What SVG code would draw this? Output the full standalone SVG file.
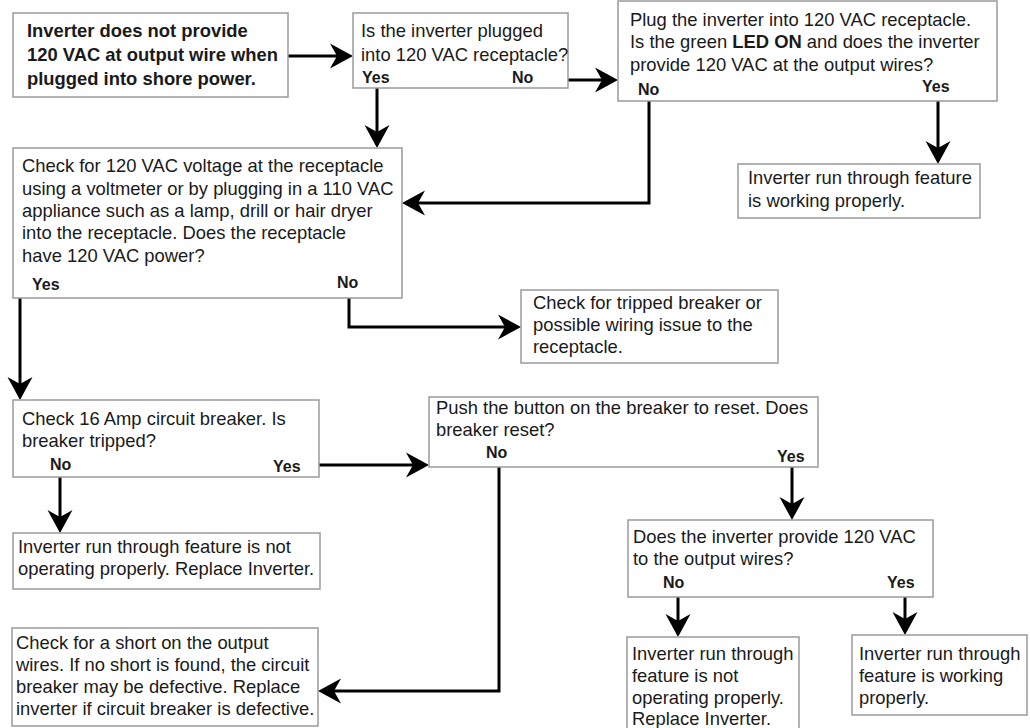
<svg xmlns="http://www.w3.org/2000/svg" width="1030" height="728" viewBox="0 0 1030 728">
<style>
.box{fill:#fff;stroke:#9a9a9a;stroke-width:1.5}
text{font-family:"Liberation Sans",Arial,sans-serif;font-size:18.4px;fill:#1a1a1a}
.b{font-weight:bold}
.lbl{font-weight:bold;font-size:16px}
.c{fill:none;stroke:#000;stroke-width:3}
</style>
<defs>
<marker id="ah" markerUnits="userSpaceOnUse" markerWidth="26" markerHeight="28" viewBox="0 -14 26 28" refX="7" refY="0" orient="auto">
<path d="M0,-12.5 L23,0 L0,12.5 L7,0 Z" fill="#000"/>
</marker>
</defs>
<rect width="1030" height="728" fill="#fff"/>
<g id="connectors">
<path class="c" d="M288,56 H337" marker-end="url(#ah)"/>
<path class="c" d="M568,80 H602" marker-end="url(#ah)"/>
<path class="c" d="M377,88 V132" marker-end="url(#ah)"/>
<path class="c" d="M649,101 V203 H418" marker-end="url(#ah)"/>
<path class="c" d="M938,101 V148" marker-end="url(#ah)"/>
<path class="c" d="M349,298 V327 H505" marker-end="url(#ah)"/>
<path class="c" d="M20,298 V384" marker-end="url(#ah)"/>
<path class="c" d="M60,477 V517" marker-end="url(#ah)"/>
<path class="c" d="M319,465 H413" marker-end="url(#ah)"/>
<path class="c" d="M499,467 V691 H334" marker-end="url(#ah)"/>
<path class="c" d="M792,467 V504" marker-end="url(#ah)"/>
<path class="c" d="M678,597 V621" marker-end="url(#ah)"/>
<path class="c" d="M905,597 V619" marker-end="url(#ah)"/>
</g>
<g id="start">
<rect class="box" x="13" y="13" width="275" height="84"/>
<text class="b" x="27" y="37">Inverter does not provide</text>
<text class="b" x="27" y="61">120 VAC at output wire when</text>
<text class="b" x="27" y="85">plugged into shore power.</text>
</g>
<g id="q-plugged">
<rect class="box" x="353" y="13" width="215" height="75"/>
<text x="361" y="37">Is the inverter plugged</text>
<text x="361" y="61">into 120 VAC receptacle?</text>
<text class="lbl" x="362" y="83">Yes</text>
<text class="lbl" x="512" y="83">No</text>
</g>
<g id="q-plug-in">
<rect class="box" x="618" y="1" width="379" height="100"/>
<text x="630" y="26">Plug the inverter into 120 VAC receptacle.</text>
<text x="630" y="48">Is the green <tspan class="b">LED ON</tspan> and does the inverter</text>
<text x="630" y="71">provide 120 VAC at the output wires?</text>
<text class="lbl" x="638" y="95">No</text>
<text class="lbl" x="922" y="92">Yes</text>
</g>
<g id="ok-1">
<rect class="box" x="738" y="164" width="242" height="54"/>
<text x="748" y="184">Inverter run through feature</text>
<text x="748" y="207">is working properly.</text>
</g>
<g id="q-receptacle">
<rect class="box" x="13" y="148" width="389" height="150"/>
<text x="22" y="172">Check for 120 VAC voltage at the receptacle</text>
<text x="22" y="194.5">using a voltmeter or by plugging in a 110 VAC</text>
<text x="22" y="217">appliance such as a lamp, drill or hair dryer</text>
<text x="22" y="239">into the receptacle. Does the receptacle</text>
<text x="22" y="261.5">have 120 VAC power?</text>
<text class="lbl" x="32" y="290">Yes</text>
<text class="lbl" x="337" y="288">No</text>
</g>
<g id="tripped">
<rect class="box" x="521" y="290" width="257" height="73"/>
<text x="533" y="309">Check for tripped breaker or</text>
<text x="533" y="331">possible wiring issue to the</text>
<text x="533" y="353">receptacle.</text>
</g>
<g id="q-breaker">
<rect class="box" x="13" y="400" width="306" height="77"/>
<text x="22" y="425">Check 16 Amp circuit breaker. Is</text>
<text x="22" y="447">breaker tripped?</text>
<text class="lbl" x="50" y="470">No</text>
<text class="lbl" x="273" y="472">Yes</text>
</g>
<g id="replace-1">
<rect class="box" x="13" y="533" width="307" height="56"/>
<text x="18" y="553">Inverter run through feature is not</text>
<text x="18" y="575">operating properly. Replace Inverter.</text>
</g>
<g id="q-reset">
<rect class="box" x="429" y="397" width="389" height="70"/>
<text x="436" y="414">Push the button on the breaker to reset. Does</text>
<text x="436" y="436">breaker reset?</text>
<text class="lbl" x="486" y="458">No</text>
<text class="lbl" x="777" y="462">Yes</text>
</g>
<g id="short">
<rect class="box" x="12" y="628" width="306" height="98"/>
<text x="16" y="649">Check for a short on the output</text>
<text x="16" y="671">wires. If no short is found, the circuit</text>
<text x="16" y="693">breaker may be defective. Replace</text>
<text x="16" y="715">inverter if circuit breaker is defective.</text>
</g>
<g id="q-output">
<rect class="box" x="628" y="520" width="305" height="77"/>
<text x="633" y="543">Does the inverter provide 120 VAC</text>
<text x="633" y="565">to the output wires?</text>
<text class="lbl" x="663" y="588">No</text>
<text class="lbl" x="887" y="588">Yes</text>
</g>
<g id="replace-2">
<rect class="box" x="627" y="637" width="172" height="95"/>
<text x="632" y="660">Inverter run through</text>
<text x="632" y="682">feature is not</text>
<text x="632" y="704">operating properly.</text>
<text x="632" y="725">Replace Inverter.</text>
</g>
<g id="ok-2">
<rect class="box" x="852" y="635" width="175" height="80"/>
<text x="859" y="660">Inverter run through</text>
<text x="859" y="682">feature is working</text>
<text x="859" y="704">properly.</text>
</g>
</svg>
